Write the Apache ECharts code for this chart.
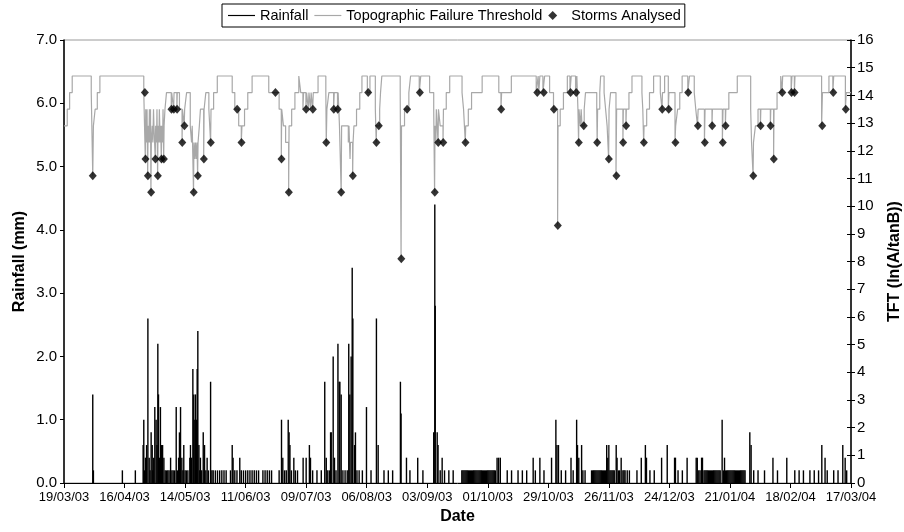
<!DOCTYPE html>
<html><head><meta charset="utf-8">
<script src="https://cdn.jsdelivr.net/npm/echarts@6/dist/echarts.min.js"></script>
<style>html,body{margin:0;padding:0;background:#fff}#c{width:904px;height:532px}</style>
</head><body><div id="c"></div>
<script>
// x values are days since 19/03/03
const dateTicks = ['19/03/03','16/04/03','14/05/03','11/06/03','09/07/03','06/08/03','03/09/03','01/10/03','29/10/03','26/11/03','24/12/03','21/01/04','18/02/04','17/03/04'];

const rainfall = [
 [13.3,1.4],[13.6,0.2],[27,0.2],[33,0.2],
 [36.6,0.6],[36.9,1.0],[37.3,0.2],[37.7,0.4],[38.2,0.6],[38.8,2.6],[39.4,0.4],[39.8,0.2],[40.3,0.8],[40.8,0.6],[41.1,0.2],[41.5,0.4],[42.0,1.2],[42.6,1.0],[43.0,0.6],[43.4,2.2],[43.7,1.4],[44.2,0.4],[44.6,1.2],[45.1,0.6],[45.6,0.6],[46.2,0.4],[46.8,0.2],[47.4,0.2],[48.0,0.2],[48.6,0.2],[49.3,0.4],[49.9,0.2],[50.5,0.2],[51.2,0.2],[51.9,1.2],[52.5,0.2],[53.0,0.4],[53.4,0.8],[53.9,1.2],[54.5,0.4],[55.0,0.2],[55.4,0.6],[56.0,0.2],[56.6,0.2],[57.3,0.2],[58.2,0.4],[58.5,0.6],[59.0,0.4],[59.6,1.8],[60.0,1.4],[60.5,1.0],[60.8,1.4],[61.3,1.0],[61.6,1.8],[61.9,2.4],[62.4,0.6],[62.8,0.2],[63.1,0.4],[63.7,0.2],[64.4,0.8],[65.0,0.6],[65.6,0.2],[66.2,0.4],[66.8,0.2],[67.8,1.6],[68.4,0.2],
 [69,0.2],[70,0.2],[71,0.2],[72,0.2],[73,0.2],[74,0.2],[75,0.2],[77,0.2],[77.8,0.6],[78.2,0.4],[79,0.2],[80,0.2],[81.3,0.4],[82,0.2],[83,0.2],[84,0.2],[85,0.2],[86,0.2],[87,0.2],[88,0.2],[89,0.2],[90,0.2],[92,0.2],[93,0.2],[94,0.2],[95,0.2],[96,0.2],
 [99.5,0.2],[100.6,1.0],[101.2,0.4],[102,0.2],[102.8,0.2],[103.7,1.0],[104.1,0.8],[104.5,0.6],[105.2,0.2],[106.3,0.4],[107,0.2],[108,0.2],[110.6,0.4],[112.0,0.4],[113.5,0.6],[114.0,0.4],[115,0.2],[117,0.2],[119,0.2],[120.6,1.6],[121.3,0.4],[122,0.2],[122.8,0.2],[123.3,0.8],[123.6,0.8],[124.5,2.0],[125.1,0.4],[125.8,0.2],[126.7,2.2],[127.3,1.6],[127.6,1.6],[128.2,1.4],[129,0.2],[130,0.2],[131,0.2],[131.7,2.2],[132.2,1.4],[132.8,2.0],[133.3,3.4],[133.6,2.6],[134.4,0.6],[134.8,0.8],[135.5,0.2],[136.5,0.2],[138,0.2],[139.9,1.2],[142,0.2],[144.5,2.6],[145.3,0.6],[148,0.2],[150,0.2],[152,0.2],[155.6,1.6],[155.9,1.1],[158.4,0.4],[160,0.2],[163.6,0.4],[166,0.2],
 [171.0,0.8],[171.5,4.4],[171.7,2.8],[172.6,0.8],[173.0,0.6],[174.0,0.2],[174.9,0.4],[176,0.2],[178,0.2],[180,0.2],
 [184,0.2],[184.5,0.2],[185,0.2],[185.5,0.2],[186,0.2],[186.5,0.2],[187,0.2],[187.5,0.2],[188,0.2],[188.5,0.2],[189,0.2],[189.5,0.2],[190,0.2],[190.5,0.2],[191,0.2],[191.5,0.2],[192,0.2],[192.5,0.2],[193,0.2],[193.5,0.2],[194,0.2],[194.5,0.2],[195,0.2],[195.5,0.2],[196,0.2],[196.5,0.2],[197,0.2],[197.5,0.2],[198,0.2],[198.5,0.2],[199,0.2],[199.5,0.2],[200.3,0.4],[201.0,0.4],[201.8,0.4],
 [205,0.2],[207,0.2],[210,0.2],[212,0.2],[214,0.2],[217.0,0.4],[218,0.2],[220.1,0.4],[222,0.2],[225.5,0.4],[227.5,1.0],[228.0,0.6],[228.7,0.6],[230,0.2],[232,0.2],[234.5,0.4],[235.5,0.2],[237.1,1.0],[237.5,0.6],[238.1,0.4],[239.4,0.6],[240,0.2],[241,0.2],
 [244,0.2],[244.5,0.2],[245,0.2],[245.5,0.2],[246,0.2],[246.5,0.2],[247,0.2],[247.5,0.2],[248,0.2],[248.5,0.2],[249,0.2],[249.5,0.2],[250,0.2],[250.5,0.2],[251.0,0.6],[251.5,0.4],[252.0,0.6],[252.5,0.2],[253,0.2],[253.5,0.2],[254,0.2],[254.5,0.2],[255.4,0.6],[255.8,0.4],[256.5,0.2],[257,0.2],[257.7,0.4],[258.5,0.2],[259,0.2],[259.5,0.2],[260.5,0.2],[261.5,0.2],
 [265,0.2],[267,0.4],[268.9,0.6],[269.4,0.4],[271,0.2],[273,0.2],[276.4,0.4],[279.0,0.6],[282.4,0.4],[282.8,0.4],[284,0.2],[286,0.2],[288.2,0.4],
 [292.4,0.4],[292.9,0.4],[293.6,0.2],[294.2,0.2],[294.9,0.4],[295.3,0.4],[296,0.2],[296.5,0.2],[297,0.2],[297.5,0.2],[298,0.2],[298.5,0.2],[299,0.2],[299.5,0.2],[300,0.2],[300.5,0.2],[301,0.2],[301.5,0.2],[302,0.2],[302.5,0.2],[303,0.2],[303.5,0.2],[304.4,1.0],[305.0,0.2],[305.5,0.4],[306,0.2],[306.5,0.2],[307,0.2],[307.5,0.2],[308,0.2],[308.5,0.2],[309,0.2],[309.5,0.2],[310,0.2],[310.5,0.2],[311,0.2],[311.5,0.2],[312,0.2],[312.5,0.2],[313,0.2],[313.5,0.2],[314,0.2],[314.5,0.2],[315,0.2],
 [317.2,0.8],[317.8,0.6],[319,0.2],[321,0.2],[324,0.2],[327.9,0.4],[330,0.2],[334.3,0.4],[338,0.2],[340,0.2],[342,0.2],[345,0.2],[347,0.2],[349,0.2],[350.5,0.6],[352,0.4],[353,0.2],[356,0.2],[358,0.2],[360.2,0.6],[361.3,0.4],[362,0.2]
];

// Topographic Failure Threshold, step function: [day, value held from that day]
const tft = [
 [0,12.9],[1.5,13.5],[2.6,14.1],[3.8,14.7],[12.6,14.1],[13.3,11.1],[13.6,12.9],[14.4,13.5],[15.4,14.1],[16.6,14.7],
 [36.9,14.1],[37.6,11.7],[37.8,13.5],[38.2,12.3],[38.4,13.5],[38.7,11.1],[38.9,12.9],[39.3,12.3],[39.5,13.5],[39.8,12.3],[40.0,13.5],[40.2,10.5],[40.4,12.3],[40.8,12.9],[41.1,12.3],[41.4,13.5],[41.6,12.9],[42.2,11.7],[42.4,12.9],[42.8,12.3],[43.0,13.5],[43.3,11.1],[43.5,12.9],[43.9,12.3],[44.1,13.5],[44.5,12.3],[44.7,12.9],[45.0,11.7],[45.2,12.9],[45.6,12.3],[45.8,13.5],[46.1,11.7],[46.3,12.9],[46.7,13.5],[47.4,14.1],
 [49.6,13.5],[49.8,14.1],[50.7,13.5],[50.9,14.1],[52.2,13.5],[52.4,14.1],[53.4,13.5],[54.6,12.3],[54.8,13.5],[55.6,12.9],[55.8,13.5],[56.7,14.1],
 [58.4,12.9],[59.0,12.3],[59.3,12.9],[59.9,10.5],[60.1,12.3],[60.6,11.7],[60.8,12.3],[61.3,11.7],[61.5,12.3],[61.8,11.1],[62.0,12.3],[62.6,12.9],[63.1,13.5],[64.6,11.7],[64.8,13.5],[65.6,14.1],[67.0,13.5],[67.8,12.3],[68.0,13.5],[69.2,14.1],[70.9,14.7],
 [77.8,14.1],[79.0,13.5],[80.8,12.9],[82.0,12.3],[82.3,12.9],[83.5,13.5],[85.0,14.1],[87.0,14.7],
 [94.7,14.1],[99.5,13.5],[100.5,11.7],[100.7,13.5],[101.5,12.9],[102.5,12.3],[103.9,10.5],[104.1,12.9],[105.3,13.5],[106.8,14.1],[108.6,14.7],
 [109.5,14.1],[110.5,13.5],[110.8,14.1],[111.9,13.5],[112.2,14.1],[113.0,13.5],[113.3,14.1],[114.0,13.5],[114.3,14.1],[115.0,13.5],[115.3,14.1],[117.5,14.7],[121.1,14.1],[121.3,12.3],[121.6,13.5],[122.5,14.1],
 [124.7,13.5],[125.0,14.1],[126.5,13.5],[126.8,14.1],[127.4,12.9],[128.2,10.5],[128.4,12.9],[131.5,12.3],[131.8,12.9],[132.3,11.7],[132.5,12.3],[133.5,11.1],[133.7,12.3],[134.1,12.9],[135.3,13.5],[136.8,14.1],[137.8,14.7],
 [140.3,14.1],[141.5,14.7],[144.0,13.5],[144.4,12.3],[144.6,12.9],[146.0,13.5],[146.4,14.1],[147.0,14.7],
 [155.5,14.1],[155.9,8.1],[156.1,12.9],[157.5,13.5],[159.5,14.1],[160.3,14.7],[164.3,14.1],[165.0,14.7],
 [169.1,14.1],[171.0,13.5],[171.4,10.5],[171.6,12.9],[172.0,12.3],[172.2,13.5],[173.0,12.3],[173.2,13.5],[174.0,12.9],[175.3,12.3],[175.5,13.5],[176.8,14.1],[178.4,14.7],
 [184.1,14.1],[184.8,13.5],[185.6,12.3],[185.8,12.9],[187.0,13.5],[188.5,14.1],[193.4,14.7],
 [201.1,14.1],[202.1,13.5],[202.4,14.1],[206.9,14.7],
 [218.4,14.1],[219.3,14.7],[219.6,14.1],[220.1,14.7],[221.5,14.1],[222.3,14.7],[224.6,14.1],[226.4,13.5],[228.3,9.3],[228.5,12.9],[229.5,13.5],[231.0,14.1],[232.8,14.7],
 [234.0,14.1],[234.6,14.7],[236.6,14.1],[237.2,14.7],[237.7,13.5],[238.0,12.3],[238.2,13.5],[238.8,12.9],[239.2,13.5],[239.6,12.9],[240.6,13.5],[241.2,14.1],[246.4,13.5],[246.6,12.3],[246.8,13.5],[247.8,14.1],[248.2,14.7],
 [249.8,14.1],[250.5,13.5],[251.2,12.9],[251.9,11.7],[252.1,13.5],[252.8,14.1],[255.3,11.1],[255.6,13.5],[258.5,12.3],[258.7,13.5],[259.9,12.9],[260.1,13.5],[261.3,14.1],[262.7,14.7],
 [267.3,14.1],[267.7,13.5],[268.1,12.3],[268.3,12.9],[269.5,13.5],[270.8,14.1],[272.7,14.7],
 [275.8,14.1],[276.6,13.5],[276.8,14.1],[277.8,14.7],[279.5,13.5],[279.8,14.1],[282.6,12.3],[282.9,12.9],[283.8,13.5],[284.8,14.1],[285.9,14.7],
 [288.5,14.1],[289.3,14.7],[291.5,14.1],[292.2,13.5],[293.0,12.9],[293.3,13.5],[296.2,12.3],[296.5,13.5],[299.7,12.9],[299.9,13.5],[304.5,12.3],[304.8,13.5],[305.9,12.9],[306.1,13.5],[307.5,14.1],[311.4,14.7],
 [317.6,13.5],[318.0,12.3],[318.7,11.1],[318.9,12.3],[319.8,12.9],[321.0,13.5],[322.1,12.9],[322.3,13.5],[326.7,12.9],[326.9,13.5],[328.2,11.7],[328.4,13.5],[329.8,14.1],[331.5,14.7],
 [332.1,14.1],[332.4,14.7],[336.3,14.1],[336.7,14.7],[337.8,14.1],[338.1,14.7],[350.4,12.9],[350.8,14.1],[353.8,14.7],[355.6,14.1],[356.0,14.7],[361.4,13.5],[361.8,14.1],[364,14.1]
];

const storms = [
 [13.3,11.1],[37.4,14.1],[37.7,11.7],[38.8,11.1],[40.3,10.5],[42.3,11.7],[43.4,11.1],[45.1,11.7],[46.2,11.7],[49.7,13.5],[50.8,13.5],[52.3,13.5],[54.7,12.3],[55.7,12.9],[60.0,10.5],[61.9,11.1],[64.7,11.7],[67.9,12.3],[80.1,13.5],[82.1,12.3],[97.8,14.1],[100.6,11.7],[104.0,10.5],[112.0,13.5],[115.1,13.5],[121.3,12.3],[124.8,13.5],[126.6,13.5],[128.2,10.5],[133.6,11.1],[140.7,14.1],[144.5,12.3],[145.6,12.9],[156.0,8.1],[158.7,13.5],[164.6,14.1],[171.5,10.5],[173.1,12.3],[175.4,12.3],[185.7,12.3],[202.2,13.5],[218.9,14.1],[221.9,14.1],[226.6,13.5],[228.4,9.3],[234.3,14.1],[236.9,14.1],[238.1,12.3],[240.4,12.9],[246.6,12.3],[252.0,11.7],[255.5,11.1],[258.6,12.3],[260.0,12.9],[268.2,12.3],[276.7,13.5],[279.7,13.5],[282.8,12.3],[288.7,14.1],[293.2,12.9],[296.4,12.3],[299.8,12.9],[304.7,12.3],[306.0,12.9],[318.8,11.1],[322.2,12.9],[326.8,12.9],[328.3,11.7],[332.2,14.1],[336.5,14.1],[337.9,14.1],[350.7,12.9],[355.8,14.1],[361.6,13.5]
];

const FONT = 'Liberation Sans, Arial, Helvetica, sans-serif';
const LINE_ICON = 'path://M0,0h30v1.3h-30z';
const chart = echarts.init(document.getElementById('c'), null, {renderer: 'canvas'});
chart.setOption({
  animation: false,
  backgroundColor: '#fff',
  textStyle: {fontFamily: FONT, color: '#000'},
  legend: {
    left: 222, top: 4,
    padding: [4, 4, 4, 6],
    borderColor: '#000', borderWidth: 1,
    itemGap: 6, itemWidth: 27, itemHeight: 9,
    symbolKeepAspect: true,
    textStyle: {fontFamily: FONT, fontSize: 14.5, color: '#000'},
    data: [
      {name: 'Rainfall', icon: LINE_ICON, itemStyle: {color: '#000'}},
      {name: 'Topographic Failure Threshold', icon: LINE_ICON, itemStyle: {color: '#a8a8a8'}},
      {name: 'Storms Analysed', icon: 'path://M5,0L10,5L5,10L0,5Z', itemStyle: {color: '#000'}}
    ]
  },
  grid: {left: 64, right: 53, top: 40, bottom: 49, containLabel: false, outerBoundsMode: 'none',
         show: true, borderColor: '#9a9a9a', borderWidth: 1, backgroundColor: 'transparent'},
  xAxis: {
    type: 'value', min: 0, max: 364, interval: 28,
    name: 'Date', nameLocation: 'middle', nameGap: 21,
    nameTextStyle: {fontFamily: FONT, fontSize: 16, fontWeight: 'bold', color: '#000'},
    axisLine: {lineStyle: {color: '#000', width: 1}},
    axisTick: {length: 5, lineStyle: {color: '#000'}},
    axisLabel: {fontFamily: FONT, fontSize: 13, color: '#000', margin: 8,
      formatter: v => dateTicks[Math.round(v / 28)] || ''},
    splitLine: {show: false}
  },
  yAxis: [
    {type: 'value', min: 0, max: 7, interval: 1, position: 'left',
     name: 'Rainfall (mm)', nameLocation: 'middle', nameGap: 36.5, nameRotate: 90, nameMoveOverlap: false,
     nameTextStyle: {fontFamily: FONT, fontSize: 16, fontWeight: 'bold', color: '#000'},
     axisLine: {show: true, lineStyle: {color: '#000', width: 1.5}},
     axisTick: {show: true, length: 4, lineStyle: {color: '#000'}},
     axisLabel: {fontFamily: FONT, fontSize: 15, color: '#000', margin: 7, formatter: v => v.toFixed(1)},
     splitLine: {show: false}},
    {type: 'value', min: 0, max: 16, interval: 1, position: 'right',
     name: 'TFT (ln(A/tanB))', nameLocation: 'middle', nameGap: 36, nameRotate: 90, nameMoveOverlap: false,
     nameTextStyle: {fontFamily: FONT, fontSize: 16, fontWeight: 'bold', color: '#000'},
     axisLine: {show: true, lineStyle: {color: '#000', width: 1.5}},
     axisTick: {show: true, length: 4, lineStyle: {color: '#000'}},
     axisLabel: {fontFamily: FONT, fontSize: 15, color: '#000', margin: 6},
     splitLine: {show: false}},
    {type: 'value', min: 0, max: 16, interval: 1, position: 'right',
     axisLine: {show: false},
     axisTick: {show: true, inside: true, length: 4, lineStyle: {color: '#000'}},
     axisLabel: {show: false}, splitLine: {show: false}}
  ],
  series: [
    {name: 'Rainfall', type: 'bar', yAxisIndex: 0, data: rainfall, barWidth: 1.4,
     itemStyle: {color: '#000'}, z: 2},
    {name: 'Topographic Failure Threshold', type: 'line', yAxisIndex: 1, step: 'end', data: tft,
     symbol: 'none', showSymbol: false, lineStyle: {color: '#a8a8a8', width: 1.2}, itemStyle: {color: '#a8a8a8'}, z: 3},
    {name: 'Storms Analysed', type: 'scatter', yAxisIndex: 1, data: storms,
     symbol: 'diamond', symbolSize: [8, 9], itemStyle: {color: '#000'}, z: 4}
  ]
});
</script></body></html>
